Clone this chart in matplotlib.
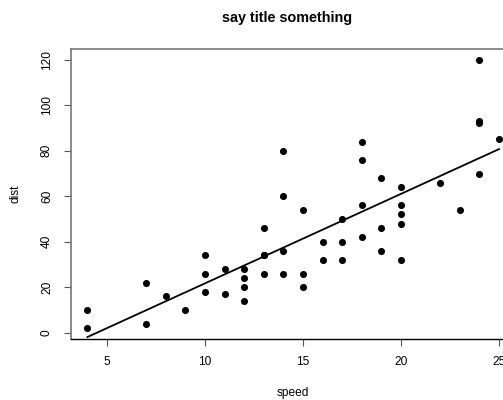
import matplotlib.pyplot as plt
import numpy as np

# cars dataset (speed vs stopping distance)
speed = [4, 4, 7, 7, 8, 9, 10, 10, 10, 11, 11, 12, 12, 12, 12, 13, 13, 13, 13,
         14, 14, 14, 14, 15, 15, 15, 16, 16, 17, 17, 17, 18, 18, 18, 18, 19, 19,
         19, 20, 20, 20, 20, 20, 22, 23, 24, 24, 24, 24, 25]
dist = [2, 10, 4, 22, 16, 10, 18, 26, 34, 17, 28, 14, 20, 24, 28, 26, 34, 34, 46,
        26, 36, 60, 80, 20, 26, 54, 32, 40, 32, 40, 50, 42, 56, 76, 84, 36, 46,
        68, 32, 48, 52, 56, 64, 66, 54, 70, 92, 93, 120, 85]
x_ticks = [5, 10, 15, 20, 25]
y_ticks = [0, 20, 40, 60, 80, 100, 120]

plt.rcParams['font.family'] = ['Liberation Sans', 'DejaVu Sans']

fig = plt.figure(figsize=(5.03, 4.0), dpi=100)
ax = fig.add_axes([71 / 503, 61 / 400, 444.5 / 503, 290 / 400])

ax.scatter(speed, dist, s=26, color='black', zorder=3, linewidths=0)

# linear fit
b, a = np.polyfit(speed, dist, 1)
xs = np.array([min(speed), max(speed)])
ax.plot(xs, a + b * xs, color='black', lw=1.3)

ax.set_xlim(3.16, 25.84)
ax.set_ylim(-2.72, 124.72)
ax.set_xticks(x_ticks)
ax.set_yticks(y_ticks)
ax.tick_params(axis='both', labelsize=8.6, length=5, width=0.8, color='#555555')
ax.tick_params(axis='x', pad=7)
ax.tick_params(axis='y', pad=8)
for lab in ax.get_yticklabels():
    lab.set_rotation(90)
    lab.set_va('center')

for side in ['left', 'top', 'right']:
    ax.spines[side].set_color('#777777')
    ax.spines[side].set_linewidth(1.2)
ax.spines['bottom'].set_color('black')
ax.spines['bottom'].set_linewidth(1.0)

ax.set_xlabel('speed', fontsize=8.6, labelpad=14)
ax.set_ylabel('dist', fontsize=8.6, labelpad=14)
fig.text(287 / 503, 1 - 18 / 400, 'say title something', ha='center', va='center',
         fontsize=10.4, fontweight='bold')

plt.savefig('out.png', dpi=100)
plt.close()
